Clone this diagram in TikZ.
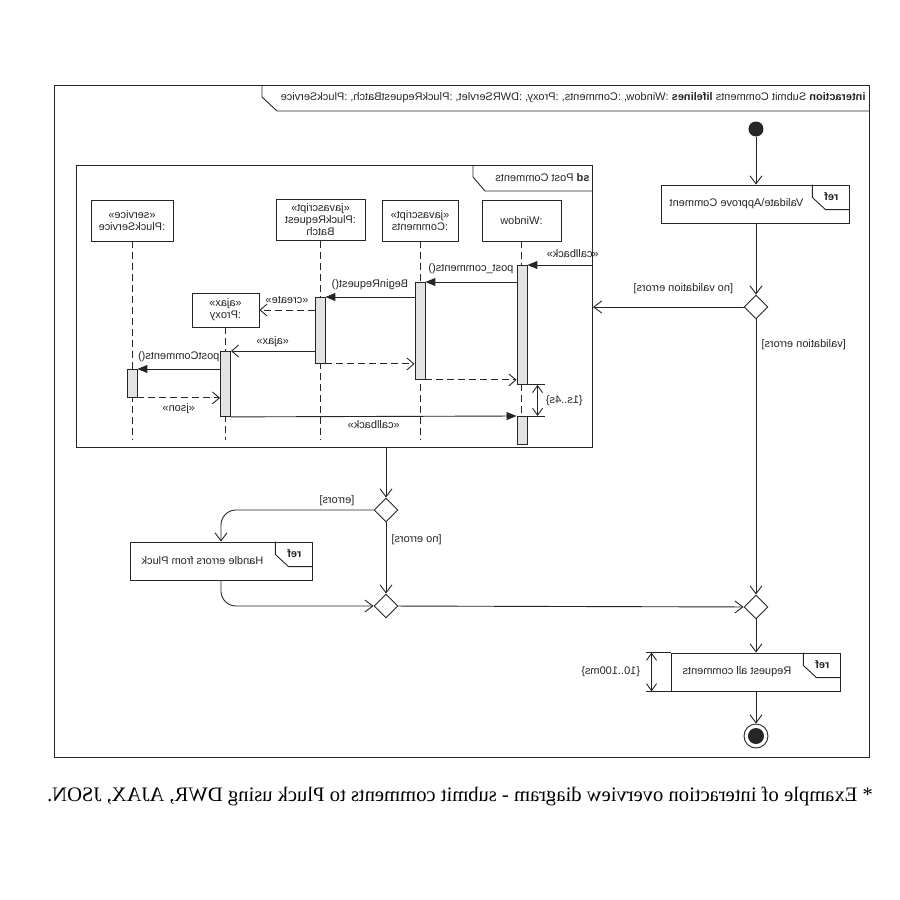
\documentclass[tikz,border=0pt]{standalone}
\usepackage{fontspec}
\setsansfont{Liberation Sans}
\newfontfamily\captionfont{Liberation Serif}
\usetikzlibrary{arrows.meta,shapes.geometric}

\begin{document}
\begin{tikzpicture}[x=1pt, y=-1pt, xscale=-1,
    every node/.append style={transform shape, inner sep=1pt},
    font=\sffamily\fontsize{11}{12}\selectfont,
    color=black!85, line width=0.9pt,
    frame/.style={draw, line width=1.1pt, inner sep=0, anchor=north west},
    lbox/.style={draw, fill=white, align=center, minimum height=41pt},
    act/.style={draw, fill=gray!22, minimum width=10pt, inner sep=0, anchor=north},
    lifeline/.style={dash pattern=on 7pt off 4pt},
    call/.style={-{Triangle[length=10pt,width=8pt]}},
    async/.style={-{Straight Barb[length=7pt,width=12pt]}},
    reply/.style={async, dash pattern=on 7pt off 4pt},
    flow/.style={-{Straight Barb[length=8pt,width=12pt]}},
    dur/.style={{Straight Barb[length=7pt,width=10pt]}-{Straight Barb[length=7pt,width=10pt]}},
    refbox/.style={draw, fill=white, inner sep=0, minimum height=38pt},
    choice/.style={diamond, draw, fill=white, inner sep=0, minimum width=24pt, minimum height=24pt}]
    \newcommand{\refTab}[1]{
        \draw (#1.north west) ++(37,0) -- ++(0,13) -- ++(-13,12) -- ++(-24,0);
        \path (#1.north west) ++(18,12) node[font=\sffamily\bfseries\fontsize{11}{12}\selectfont] (#1Ref) {ref};
    }
  \fill[white] (0,0) rectangle (900,900);
  \useasboundingbox (0,0) rectangle (900,900);

  % outer interaction frame
  \node[frame, minimum width=815pt, minimum height=672pt] (mainF) at (30,85) {};
  \draw (mainF.north west) ++(608,0) -- ++(0,12) -- ++(-15,14) -- ++(-593,0);
  \node[anchor=west] (mainT) at (33,98) {\textbf{interaction} Submit Comments \textbf{lifelines} :Window, :Comments, :Proxy, :DWRServlet, :PluckRequestBatch, :PluckService};

  % sd frame
  \node[frame, minimum width=516pt, minimum height=282pt] (sdF) at (307,165) {};
  \draw (sdF.north west) ++(120,0) -- ++(0,12) -- ++(-12,14) -- ++(-108,0);
  \node[anchor=west] (sdT) at (309,178) {\textbf{sd} Post Comments};

  % lifelines
  \node[lbox, minimum width=79pt] (win) at (378.5,220.5) {:Window};
  \node[lbox, minimum width=76pt] (com) at (480,220.5) {«javascript»\\:Comments};
  \node[lbox, minimum width=89pt] (bat) at (579.5,220) {«javascript»\\:PluckRequest\\Batch};
  \node[lbox, minimum width=67pt, minimum height=34pt] (prx) at (674.5,310) {«ajax»\\:Proxy};
  \node[lbox, minimum width=82pt] (svc) at (768,220.5) {«service»\\:PluckService};
  \coordinate (llEnd) at (0,440);
  \foreach \ll in {win,com,bat,prx,svc}
    \draw[lifeline] (\ll.south) -- (\ll.south |- llEnd);

  % activations
  \node[act, minimum height=119pt] (winA) at (378,265) {};
  \node[act, minimum height=28pt] (winB) at (378,416) {};
  \node[act, minimum height=97pt] (comA) at (480,282) {};
  \node[act, minimum height=66pt] (batA) at (580,297) {};
  \node[act, minimum height=65pt] (prxA) at (674.5,351) {};
  \node[act, minimum height=28pt] (svcA) at (768,369) {};

  % messages
  \draw[call] (winA.north west -| sdF.west) -- (winA.north west) node[pos=0.31, above=6pt] (mCb1) {«callback»};
  \draw[call] ([yshift=-17pt]winA.north east) -- (comA.north west) node[midway, above=7pt] (mPost) {post\_comments()};
  \draw[call] ([yshift=-15pt]comA.north east) -- (batA.north west) node[midway, above=6pt] (mBegin) {BeginRequest()};
  \draw[reply] ([yshift=-13pt]batA.north east) -- (prx.west) node[midway, above=5pt] (mCreate) {«create»};
  \draw[async] (batA.east |- prxA.north) -- (prxA.north west) node[midway, above=3pt] (mAjax) {«ajax»};
  \draw[call] ([yshift=-18pt]prxA.north east) -- (svcA.north west) node[midway, above=6pt] (mPC) {postComments()};
  \draw[reply] (svcA.south west) -- (prxA.east |- svcA.south) node[midway, below=4pt] (mJson) {«json»};
  \draw[reply] (batA.south west) -- (comA.east |- batA.south);
  \draw[reply] (comA.south west) -- (winA.east |- comA.south);
  \draw[call] (prxA.south west) -- (winB.north east) node[midway, below=3pt] (mCb2) {«callback»};

  % duration on Window
  \draw (winA.south east) -- ++(-28,0);
  \draw (winB.north east) -- ++(-28,0);
  \path (winA.south east) ++(-21,0) coordinate (tTop);
  \draw[dur] (tTop) -- (tTop |- winB.north) node[midway, left=7pt] (tLbl) {\{1s..4s\}};

  % main flow
  \node[circle, fill, inner sep=0, minimum size=15pt] (init) at (144,129) {};
  \node[refbox, minimum width=188pt] (vb) at (145,204) {\hspace*{37pt}Validate\textbackslash Approve Comment};
  \refTab{vb}
  \node[choice] (d1) at (144,307) {};
  \node[choice] (d2) at (514,510) {};
  \node[refbox, minimum width=182pt] (hb) at (679,561) {\hspace*{37pt}Handle errors from Pluck};
  \refTab{hb}
  \node[choice] (d3) at (514,606) {};
  \node[choice] (d4) at (144,607) {};
  \node[refbox, minimum width=169pt] (rq) at (144.5,672) {\hspace*{37pt}Request all comments};
  \refTab{rq}
  \node[circle, draw, inner sep=0, minimum size=24pt] (fin) at (144,736) {};
  \fill (fin.center) circle[radius=8pt];

  \draw[flow] (init) -- (init |- vb.north);
  \draw[flow] (vb.south -| d1) -- (d1);
  \draw[flow] (d1) -- (d1 -| sdF.west) node[pos=0.4, above=12pt] (lNoVal) {[no validation errors]};
  \draw[flow] (d1) -- (d4) node[pos=0.09, left=4pt] (lVal) {[validation errors]};
  \draw[flow] (sdF.south -| d2) -- (d2);
  \draw[flow, rounded corners=15pt] (d2) -| (hb) node[pos=0.12, above=3pt] (lErr) {[errors]};
  \draw[flow] (d2) -- (d3) node[pos=0.24, left=4pt] (lNoErr) {[no errors]};
  \draw[flow, rounded corners=15pt] (hb) |- (d3);
  \draw[flow] (d3) -- (d4);
  \draw[flow] (d4) -- (d4 |- rq.north);
  \draw[flow] (rq.south -| fin) -- (fin);

  % duration on Request all comments
  \draw (rq.north east) -- ++(25,0);
  \draw (rq.south east) -- ++(25,0);
  \path (rq.north east) ++(19,0) coordinate (dTop);
  \draw[dur] (dTop) -- (dTop |- rq.south) node[midway, right=10pt] (lDur) {\{10..100ms\}};

  % caption
  \node[font=\captionfont\fontsize{20.6}{24}\selectfont, color=black] (cap) at (440,796) {* Example of interaction overview diagram - submit comments to Pluck using DWR, AJAX, JSON.};
\end{tikzpicture}
\end{document}
